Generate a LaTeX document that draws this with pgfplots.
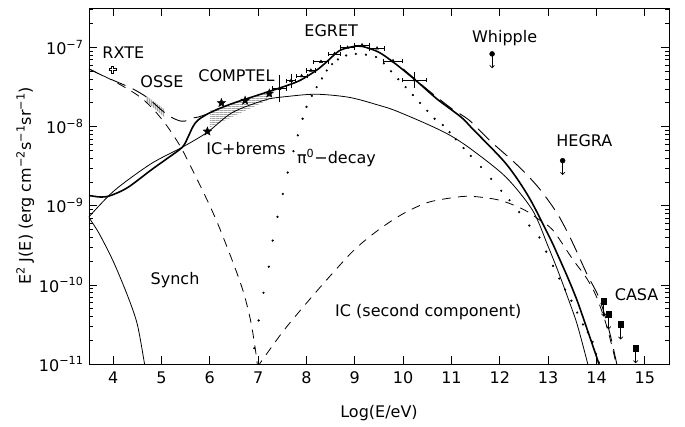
\documentclass[border=0pt]{standalone}
\usepackage{pgfplots}
\pgfplotsset{compat=1.18}
\usepackage{fontspec}
\setmainfont{DejaVu Sans}
\usetikzlibrary{patterns,arrows.meta}
\pgfdeclareplotmark{fstar}{%
  \pgfpathmoveto{\pgfpointpolar{90}{\pgfplotmarksize}}%
  \pgfpathlineto{\pgfpointpolar{126}{0.42*\pgfplotmarksize}}%
  \pgfpathlineto{\pgfpointpolar{162}{\pgfplotmarksize}}%
  \pgfpathlineto{\pgfpointpolar{198}{0.42*\pgfplotmarksize}}%
  \pgfpathlineto{\pgfpointpolar{234}{\pgfplotmarksize}}%
  \pgfpathlineto{\pgfpointpolar{270}{0.42*\pgfplotmarksize}}%
  \pgfpathlineto{\pgfpointpolar{306}{\pgfplotmarksize}}%
  \pgfpathlineto{\pgfpointpolar{342}{0.42*\pgfplotmarksize}}%
  \pgfpathlineto{\pgfpointpolar{18}{\pgfplotmarksize}}%
  \pgfpathlineto{\pgfpointpolar{54}{0.42*\pgfplotmarksize}}%
  \pgfpathclose\pgfusepathqfillstroke}
\pgfdeclareplotmark{ocross}{%
  \pgfpathmoveto{\pgfpoint{-0.3*\pgfplotmarksize}{\pgfplotmarksize}}%
  \pgfpathlineto{\pgfpoint{0.3*\pgfplotmarksize}{\pgfplotmarksize}}%
  \pgfpathlineto{\pgfpoint{0.3*\pgfplotmarksize}{0.3*\pgfplotmarksize}}%
  \pgfpathlineto{\pgfpoint{\pgfplotmarksize}{0.3*\pgfplotmarksize}}%
  \pgfpathlineto{\pgfpoint{\pgfplotmarksize}{-0.3*\pgfplotmarksize}}%
  \pgfpathlineto{\pgfpoint{0.3*\pgfplotmarksize}{-0.3*\pgfplotmarksize}}%
  \pgfpathlineto{\pgfpoint{0.3*\pgfplotmarksize}{-\pgfplotmarksize}}%
  \pgfpathlineto{\pgfpoint{-0.3*\pgfplotmarksize}{-\pgfplotmarksize}}%
  \pgfpathlineto{\pgfpoint{-0.3*\pgfplotmarksize}{-0.3*\pgfplotmarksize}}%
  \pgfpathlineto{\pgfpoint{-\pgfplotmarksize}{-0.3*\pgfplotmarksize}}%
  \pgfpathlineto{\pgfpoint{-\pgfplotmarksize}{0.3*\pgfplotmarksize}}%
  \pgfpathlineto{\pgfpoint{-0.3*\pgfplotmarksize}{0.3*\pgfplotmarksize}}%
  \pgfpathclose\pgfusepathqstroke}
% fine hatch patterns
\pgfdeclarepatternformonly{hfine}{\pgfpointorigin}{\pgfqpoint{4bp}{2bp}}{\pgfqpoint{4bp}{2bp}}{%
  \pgfsetlinewidth{0.5bp}%
  \pgfpathmoveto{\pgfqpoint{-0.5bp}{1bp}}\pgfpathlineto{\pgfqpoint{4.5bp}{1bp}}%
  \pgfusepath{stroke}}
\pgfdeclarepatternformonly{vfine}{\pgfpointorigin}{\pgfqpoint{1.8bp}{4bp}}{\pgfqpoint{1.8bp}{4bp}}{%
  \pgfsetlinewidth{0.5bp}%
  \pgfpathmoveto{\pgfqpoint{0.9bp}{-0.5bp}}\pgfpathlineto{\pgfqpoint{0.9bp}{4.5bp}}%
  \pgfusepath{stroke}}
\begin{document}
\begin{tikzpicture}
\fontsize{16bp}{19bp}\selectfont
\begin{axis}[
  at={(0,0)}, anchor=south west,
  scale only axis, width=580bp, height=356bp,
  xmin=3.5, xmax=15.5, ymin=-11, ymax=-6.5,
  xtick={4,5,6,7,8,9,10,11,12,13,14,15},
  xticklabels={4,5,6,7,8,9,10,11,12,13,14,15},
  ytick={-11,-10,-9,-8,-7},
  yticklabels={10\textsuperscript{−11},10\textsuperscript{−10},10\textsuperscript{−9},10\textsuperscript{−8},10\textsuperscript{−7}},
  minor ytick={-10.699,-10.523,-10.398,-10.301,-10.222,-10.155,-10.097,-10.046,
               -9.699,-9.523,-9.398,-9.301,-9.222,-9.155,-9.097,-9.046,
               -8.699,-8.523,-8.398,-8.301,-8.222,-8.155,-8.097,-8.046,
               -7.699,-7.523,-7.398,-7.301,-7.222,-7.155,-7.097,-7.046,
               -6.699,-6.523},
  tick align=inside, major tick length=8bp, minor tick length=4.5bp,
  tick style={black, line width=0.7bp},
  axis line style={line width=0.9bp},
  ticklabel style={font=\fontsize{16bp}{19bp}\selectfont},
  xticklabel style={yshift=-2bp},
  xlabel={Log(E/eV)},
  ylabel={E\textsuperscript{2} J(E) (erg cm\textsuperscript{−2}s\textsuperscript{−1}sr\textsuperscript{−1})},
  every axis x label/.style={at={(axis description cs:0.5,-0.138)}, anchor=center},
  every axis y label/.style={at={(axis description cs:-0.11,0.5)}, anchor=center, rotate=90},
  label style={font=\fontsize{16bp}{19bp}\selectfont},
  clip=true,
]
% Synchrotron
\addplot[black, line width=0.8bp, smooth] coordinates {
(3.45,-9.09) (3.5,-9.15) (3.7,-9.34) (4.0,-9.70) (4.3,-10.14) (4.5,-10.5) (4.65,-11.0) (4.7,-11.15)};
% IC + brems (thin solid)
\addplot[black, line width=0.8bp, smooth] coordinates {
(3.5,-9.14) (4.02,-8.81) (4.78,-8.47) (5.43,-8.26) (5.95,-8.07) (6.47,-7.82) (7.16,-7.66) (7.58,-7.62)
(8.2,-7.59) (8.89,-7.63) (9.5,-7.73) (9.85,-7.80) (10.54,-7.98) (11.0,-8.12) (11.44,-8.30)
(12.13,-8.64) (12.68,-9.06) (12.99,-9.50) (13.2,-9.82) (13.4,-10.15) (13.6,-10.5) (13.82,-11.0) (13.86,-11.1)};
% Total (thick solid)
\addplot[black, line width=1.6bp, smooth] coordinates {
(3.5,-8.87) (3.75,-8.89) (3.95,-8.87) (4.3,-8.77) (4.78,-8.55) (5.1,-8.41) (5.43,-8.26) (5.55,-8.13)
(5.65,-8.0) (5.75,-7.92) (5.95,-7.84) (6.2,-7.77) (6.5,-7.70) (7.0,-7.60) (7.5,-7.50) (7.85,-7.42)
(8.2,-7.29) (8.4,-7.19) (8.68,-7.04) (8.95,-6.99) (9.15,-6.985) (9.5,-7.06) (9.85,-7.21) (10.27,-7.42)
(10.7,-7.65) (11.2,-7.88) (11.44,-8.03) (12.13,-8.47) (12.6,-8.89) (13.03,-9.40) (13.16,-9.57)
(13.4,-9.9) (13.6,-10.2) (13.8,-10.55) (14.05,-11.0) (14.08,-11.1)};
% Pi0 decay (dots)
\addplot[only marks, mark=*, mark size=0.9bp, black] coordinates {
(6.92,-10.80) (7.01,-10.45) (7.11,-10.10) (7.22,-9.77) (7.30,-9.44) (7.40,-9.14) (7.51,-8.85) (7.61,-8.58)
(7.73,-8.31) (7.82,-8.11) (7.92,-7.90) (8.0,-7.75) (8.11,-7.61) (8.21,-7.50) (8.32,-7.39) (8.42,-7.29)
(8.53,-7.21) (8.65,-7.15) (8.82,-7.10) (9.02,-7.08) (9.23,-7.09) (9.44,-7.12) (9.6,-7.2) (9.75,-7.3)
(9.9,-7.4) (10.05,-7.5) (10.2,-7.6) (10.35,-7.7) (10.5,-7.8) (10.65,-7.9) (10.82,-7.98) (10.96,-8.07)
(11.09,-8.16) (11.25,-8.27) (11.40,-8.37) (11.61,-8.51) (11.82,-8.66) (12.03,-8.81) (12.2,-8.93)
(12.40,-9.08) (12.61,-9.25) (12.82,-9.40) (12.96,-9.58) (13.10,-9.76) (13.23,-9.92) (13.35,-10.06)
(13.48,-10.2) (13.6,-10.35) (13.72,-10.5) (13.82,-10.6) (13.92,-10.72) (13.99,-10.87) (14.05,-10.98)};
% IC first (short dashed)
\addplot[black, line width=0.8bp, dash pattern=on 9bp off 7bp, smooth] coordinates {
(3.5,-7.27) (4.0,-7.42) (4.5,-7.6) (4.8,-7.76) (5.1,-7.98) (5.4,-8.26) (5.7,-8.62) (6.0,-9.0)
(6.2,-9.28) (6.5,-9.75) (6.7,-10.1) (6.85,-10.47) (6.95,-10.85) (7.0,-11.1)};
% IC second component (short dashed)
\addplot[black, line width=0.8bp, dash pattern=on 9bp off 7bp, smooth] coordinates {
(6.97,-11.05) (7.5,-10.6) (8.0,-10.23) (8.5,-9.88) (9.0,-9.55) (9.5,-9.3) (10.0,-9.1) (10.5,-8.96)
(11.0,-8.9) (11.4,-8.88) (12.0,-8.93) (12.5,-9.05) (12.8,-9.17) (13.1,-9.31) (13.5,-9.67) (13.8,-9.92)
(14.0,-10.15) (14.2,-10.5) (14.35,-10.85) (14.42,-11.05)};
% Total with second component (long dashed)
\addplot[black, line width=0.9bp, dash pattern=on 16bp off 8bp, smooth] coordinates {
(3.5,-7.27) (3.8,-7.36) (4.1,-7.44) (4.4,-7.52) (4.7,-7.63) (5.0,-7.79) (5.2,-7.88) (5.4,-7.93)
(5.55,-7.92) (5.65,-7.89) (5.75,-7.88) (5.95,-7.84)};
\addplot[black, line width=0.9bp, dash pattern=on 16bp off 8bp, smooth] coordinates {
(10.0,-7.27) (10.5,-7.53) (11.0,-7.77) (11.37,-7.92) (11.8,-8.18) (12.35,-8.48) (12.8,-8.77)
(13.2,-9.11) (13.5,-9.46) (13.8,-9.86) (14.05,-10.16) (14.25,-10.55) (14.42,-11.0) (14.45,-11.1)};
% COMPTEL band
\addplot[draw=none, pattern=hfine] coordinates {
(6.0,-7.80) (7.28,-7.55) (7.28,-7.64) (6.0,-8.01)} --cycle;
% OSSE band
\addplot[draw=none, pattern=vfine] coordinates {
(4.68,-7.61) (5.06,-7.78) (5.06,-7.88) (4.68,-7.68)} --cycle;
% COMPTEL stars
\addplot[only marks, mark=fstar, mark size=4.5bp, black] coordinates {
(5.95,-8.06) (6.24,-7.70) (6.73,-7.67) (7.23,-7.58)};
% RXTE
\addplot[only marks, mark=ocross, mark size=3.4bp, black, line width=0.7bp] coordinates {(3.99,-7.28)};
% EGRET & low points: horizontal error bars
\addplot[only marks, mark=triangle*, mark size=1.8bp, black,
  error bars/.cd, x dir=both, x explicit, error mark=|,
  error bar style={line width=0.7bp}, error mark options={mark size=2.2bp, line width=0.7bp}] coordinates {
(7.44,-7.52) +- (0.14,0)
(7.68,-7.42) +- (0.09,0)
(7.90,-7.36) +- (0.12,0)
(8.09,-7.29) +- (0.10,0)
(8.30,-7.18) +- (0.15,0)
(8.58,-7.08) +- (0.12,0)
(8.85,-7.00) +- (0.15,0)
(9.15,-6.97) +- (0.15,0)
(9.46,-7.01) +- (0.15,0)
(9.79,-7.17) +- (0.19,0)
(10.23,-7.41) +- (0.24,0)};
% vertical error bars
\addplot[draw=none, mark=none,
  error bars/.cd, y dir=both, y explicit, error mark=-,
  error bar style={line width=0.7bp}, error mark options={mark size=2.5bp, line width=0.7bp}] coordinates {
(7.44,-7.52) +- (0,0.14)
(7.68,-7.42) +- (0,0.06)
(10.23,-7.41) +- (0,0.07)};
% Whipple, HEGRA
\addplot[only marks, mark=*, mark size=2.5bp, black] coordinates {(11.84,-7.08) (13.30,-8.43)};
\addplot[black, line width=0.7bp, quiver={u=0,v=-0.18}, -{To[length=3bp,width=5bp]}] coordinates {(11.84,-7.08) (13.30,-8.43)};
% CASA
\addplot[only marks, mark=square*, mark size=2.8bp, black] coordinates {(14.15,-10.21) (14.25,-10.37) (14.50,-10.50) (14.81,-10.80)};
\addplot[black, line width=0.7bp, quiver={u=0,v=-0.19}, -{To[length=3bp,width=5bp]}] coordinates {(14.15,-10.21) (14.25,-10.37) (14.50,-10.50) (14.81,-10.80)};
% labels
\node at (axis cs:4.21,-7.07) {RXTE};
\node at (axis cs:5.01,-7.43) {OSSE};
\node at (axis cs:6.55,-7.36) {COMPTEL};
\node at (axis cs:8.51,-6.79) {EGRET};
\node at (axis cs:12.1,-6.88) {Whipple};
\node at (axis cs:13.75,-8.18) {HEGRA};
\node at (axis cs:6.75,-8.28) {IC+brems};
\node at (axis cs:8.62,-8.40) {π\textsuperscript{0}−decay};
\node at (axis cs:5.28,-9.94) {Synch};
\node at (axis cs:10.52,-10.35) {IC (second component)};
\node at (axis cs:14.83,-10.13) {CASA};
\end{axis}
\path (-89bp,-60bp) rectangle (596bp,364bp);
\end{tikzpicture}
\end{document}
